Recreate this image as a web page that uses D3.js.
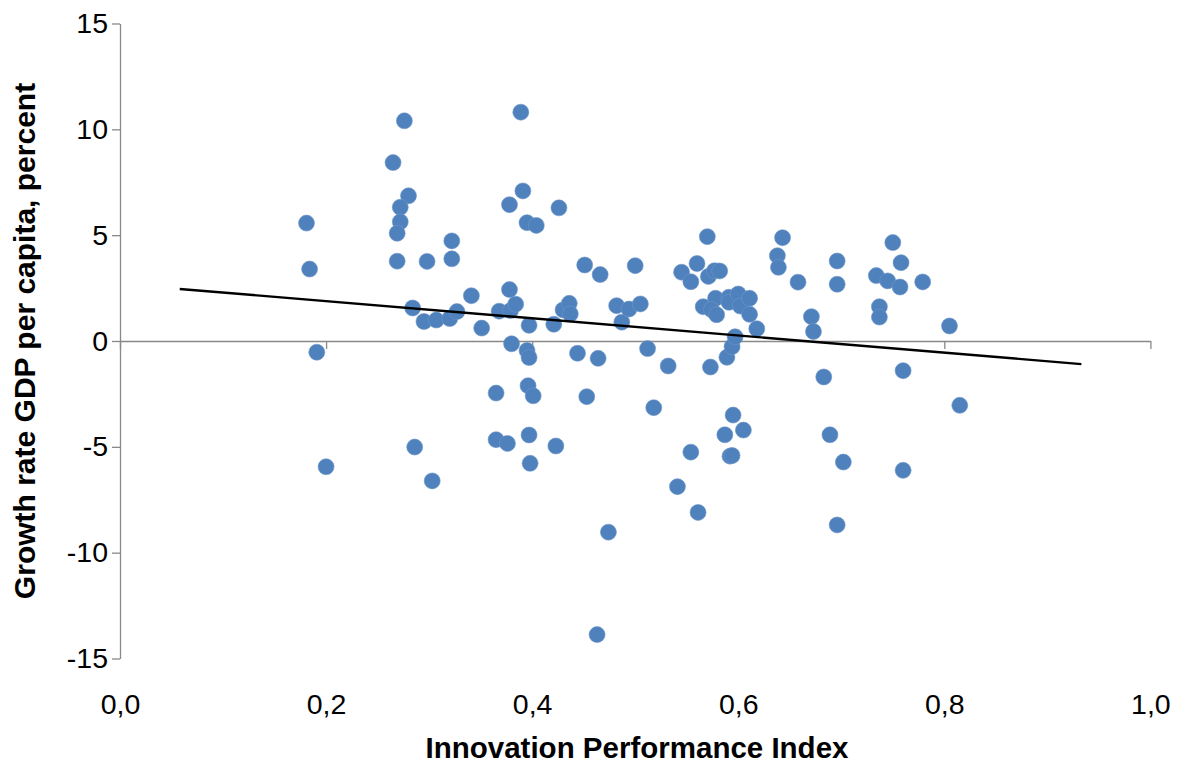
<!DOCTYPE html>
<html>
<head>
<meta charset="utf-8">
<script src="https://cdn.jsdelivr.net/npm/d3@7"></script>
<style>
  html, body { margin: 0; padding: 0; background: #fff; }
  svg { display: block; }
  text { font-family: "Liberation Sans", Arial, sans-serif; fill: #000; }
</style>
</head>
<body>
<svg id="chart" width="1177" height="764"></svg>
<script>
// ---- data ----
const innovationIndex = [
  0.181, 0.184, 0.191, 0.200, 0.265, 0.276, 0.280, 0.272, 0.272, 0.269,
  0.269, 0.284, 0.286, 0.298, 0.295, 0.307, 0.303, 0.322, 0.322, 0.320,
  0.327, 0.341, 0.351, 0.365, 0.365, 0.368, 0.376, 0.378, 0.378, 0.379,
  0.384, 0.380, 0.389, 0.391, 0.395, 0.404, 0.395, 0.397, 0.397, 0.396,
  0.401, 0.397, 0.398, 0.421, 0.423, 0.426, 0.430, 0.436, 0.437, 0.444,
  0.451, 0.453, 0.464, 0.466, 0.463, 0.474, 0.482, 0.487, 0.494, 0.500,
  0.505, 0.512, 0.518, 0.532, 0.541, 0.545, 0.554, 0.554, 0.560, 0.561,
  0.566, 0.570, 0.571, 0.573, 0.577, 0.582, 0.578, 0.574, 0.579, 0.589,
  0.587, 0.592, 0.594, 0.594, 0.597, 0.595, 0.605, 0.591, 0.591, 0.600,
  0.602, 0.611, 0.611, 0.618, 0.638, 0.639, 0.643, 0.658, 0.671, 0.673,
  0.683, 0.689, 0.696, 0.696, 0.696, 0.702, 0.734, 0.737, 0.737, 0.745,
  0.750, 0.758, 0.757, 0.760, 0.760, 0.779, 0.805, 0.815
];
const gdpGrowth = [
  5.57, 3.40, -0.53, -5.94, 8.43, 10.40, 6.86, 6.32, 5.63, 5.09,
  3.77, 1.56, -5.01, 3.76, 0.92, 0.99, -6.61, 4.73, 3.88, 1.06,
  1.39, 2.14, 0.61, -2.46, -4.66, 1.41, -4.84, 6.44, 2.43, 1.44,
  1.74, -0.13, 10.81, 7.09, 5.59, 5.46, -0.45, -0.78, 0.74, -2.11,
  -2.59, -4.44, -5.78, 0.79, -4.96, 6.29, 1.47, 1.78, 1.28, -0.58,
  3.59, -2.63, -0.82, 3.14, -13.87, -9.03, 1.67, 0.89, 1.51, 3.56,
  1.75, -0.36, -3.15, -1.18, -6.88, 3.25, -5.25, 2.80, 3.66, -8.10,
  1.62, 4.93, 3.05, -1.23, 3.32, 3.31, 2.02, 1.48, 1.24, -0.77,
  -4.43, -5.44, -5.41, -0.27, 0.20, -3.50, -4.21, 2.07, 1.83, 2.22,
  1.65, 2.02, 1.26, 0.58, 4.03, 3.48, 4.88, 2.78, 1.15, 0.45,
  -1.70, -4.43, 3.78, 2.68, -8.69, -5.72, 3.09, 1.62, 1.13, 2.84,
  4.65, 3.70, 2.55, -1.40, -6.11, 2.79, 0.71, -3.04
];
const trendX = [0.058, 0.933];
const trendY = [2.46, -1.09];

const xTickValues = [0, 0.2, 0.4, 0.6, 0.8, 1.0];
const xTickLabels = ["0,0", "0,2", "0,4", "0,6", "0,8", "1,0"];
const yTickValues = [15, 10, 5, 0, -5, -10, -15];
const yTickLabels = ["15", "10", "5", "0", "-5", "-10", "-15"];

const xTitle = "Innovation Performance Index";
const yTitle = "Growth rate GDP per capita, percent";

// ---- layout ----
const svg = d3.select("#chart");
const x = d3.scaleLinear().domain([0, 1]).range([120, 1150.4]);
const y = d3.scaleLinear().domain([-15, 15]).range([658.5, 23.5]);
const axisColor = "#898989";
const tickFont = "28.5px";

// y axis
const yAxis = d3.axisLeft(y)
  .tickValues(yTickValues)
  .tickFormat((d, i) => yTickLabels[i])
  .tickSize(8).tickSizeOuter(0).tickPadding(4);
const gy = svg.append("g").attr("transform", `translate(${x(0)},0)`).call(yAxis);
gy.select(".domain").attr("stroke", axisColor).attr("stroke-width", 1.3);
gy.selectAll(".tick line").attr("stroke", axisColor).attr("stroke-width", 1.3);
gy.selectAll(".tick text")
  .style("font-family", "'Liberation Sans', Arial, sans-serif")
  .style("font-size", tickFont).attr("fill", "#000");

// x axis line at y = 0 (ticks only)
const xAxisLine = d3.axisBottom(x)
  .tickValues(xTickValues)
  .tickFormat("")
  .tickSize(8).tickSizeOuter(0);
const gx = svg.append("g").attr("transform", `translate(0,${y(0)})`).call(xAxisLine);
gx.select(".domain").attr("stroke", axisColor).attr("stroke-width", 1.3);
gx.selectAll(".tick line").attr("stroke", axisColor).attr("stroke-width", 1.3);

// x tick labels at bottom of plot
const xAxisLabels = d3.axisBottom(x)
  .tickValues(xTickValues)
  .tickFormat((d, i) => xTickLabels[i])
  .tickSize(0).tickPadding(35.5);
const gxl = svg.append("g").attr("transform", `translate(0,${y(-15)})`).call(xAxisLabels);
gxl.select(".domain").remove();
gxl.selectAll(".tick text")
  .style("font-family", "'Liberation Sans', Arial, sans-serif")
  .style("font-size", tickFont).attr("fill", "#000");

// points
const pts = innovationIndex.map((v, i) => ({ x: v, y: gdpGrowth[i] }));
svg.append("g").selectAll("circle").data(pts).join("circle")
  .attr("cx", d => x(d.x))
  .attr("cy", d => y(d.y))
  .attr("r", 8)
  .attr("fill", "#4F81BD")
  .attr("stroke", "#6f97c9")
  .attr("stroke-width", 0.6);

// trend line
const line = d3.line().x(d => x(d[0])).y(d => y(d[1]));
svg.append("path")
  .datum(trendX.map((v, i) => [v, trendY[i]]))
  .attr("d", line)
  .attr("fill", "none")
  .attr("stroke", "#000")
  .attr("stroke-width", 2.4);

// axis titles
svg.append("text")
  .attr("x", 637).attr("y", 758)
  .attr("text-anchor", "middle")
  .style("font-size", "29.5px").style("font-weight", "bold")
  .text(xTitle);

svg.append("text")
  .attr("transform", `translate(35,${y(0)}) rotate(-90)`)
  .attr("text-anchor", "middle")
  .style("font-size", "30px").style("font-weight", "bold")
  .text(yTitle);
</script>
</body>
</html>
